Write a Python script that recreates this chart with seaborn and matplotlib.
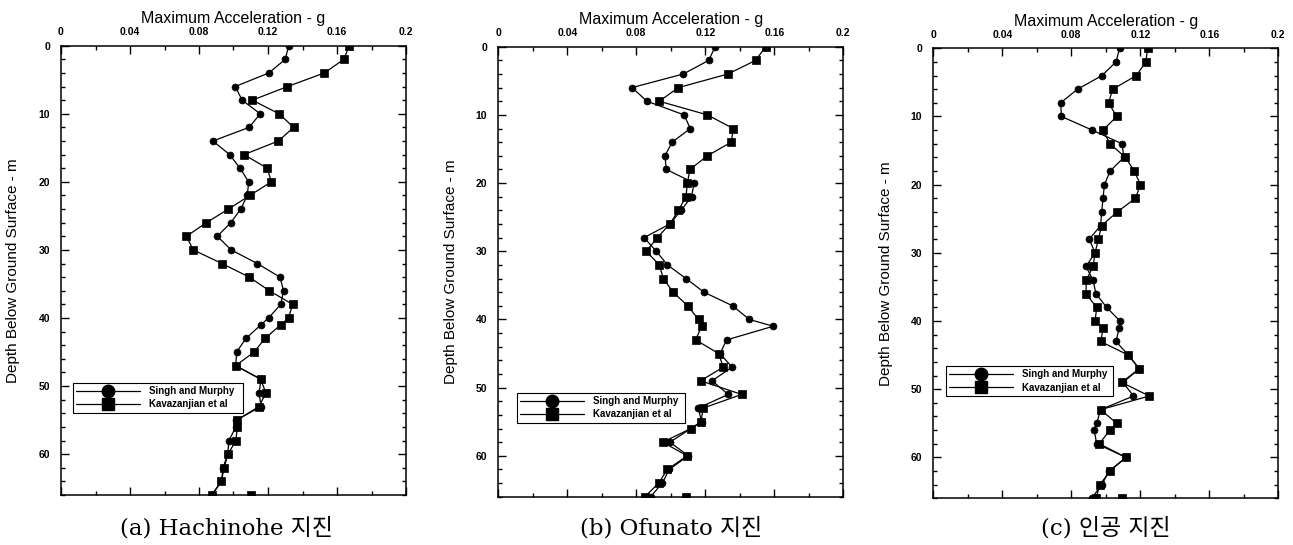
import matplotlib
matplotlib.use("Agg")
import matplotlib.pyplot as plt
import seaborn as sns
import pandas as pd
from matplotlib.ticker import MultipleLocator
from matplotlib.lines import Line2D

# ---------------- data ----------------
depths = [0, 2, 4, 6, 8, 10, 12, 14, 16, 18, 20, 22, 24, 26, 28, 30, 32, 34, 36, 38,
          40, 41, 43, 45, 47, 49, 51, 53, 55, 56, 58, 60, 62, 64, 66]

a_singh = [0.132, 0.130, 0.1205, 0.101, 0.105, 0.1155, 0.109, 0.088, 0.0978, 0.1038,
           0.1088, 0.108, 0.1042, 0.0984, 0.0906, 0.0987, 0.1138, 0.127, 0.129, 0.1274,
           0.1203, 0.1159, 0.1072, 0.1018, 0.1013, 0.116, 0.1148, 0.116, 0.1016, 0.1013,
           0.0974, 0.0966, 0.094, 0.093, 0.0875]
a_kav = [0.167, 0.164, 0.1527, 0.1313, 0.1109, 0.1264, 0.1349, 0.126, 0.1061, 0.1196,
         0.1219, 0.1095, 0.097, 0.0843, 0.0727, 0.0767, 0.0933, 0.1092, 0.1208, 0.1343,
         0.1319, 0.1273, 0.1183, 0.1119, 0.1013, 0.1157, 0.1188, 0.1148, 0.102, 0.1022,
         0.1014, 0.0968, 0.0945, 0.093, 0.0873]

b_singh = [0.1257, 0.122, 0.1073, 0.0775, 0.0862, 0.1077, 0.1113, 0.1008, 0.0966, 0.0974,
           0.1135, 0.112, 0.106, 0.0995, 0.0845, 0.0916, 0.098, 0.1088, 0.1192, 0.1358,
           0.1455, 0.1594, 0.1324, 0.1285, 0.1355, 0.1239, 0.1333, 0.1159, 0.1179, 0.1117,
           0.0995, 0.1101, 0.0991, 0.0951, 0.0883]
b_kav = [0.155, 0.1492, 0.1332, 0.1044, 0.0933, 0.1212, 0.1362, 0.1351, 0.1212, 0.1111,
         0.1096, 0.1088, 0.1044, 0.0995, 0.0922, 0.0858, 0.0933, 0.0957, 0.1013, 0.1098,
         0.1161, 0.1179, 0.1144, 0.1277, 0.1304, 0.1173, 0.1411, 0.1188, 0.1175, 0.1117,
         0.0953, 0.1095, 0.098, 0.093, 0.085]

c_singh = [0.108, 0.1059, 0.0978, 0.0836, 0.0738, 0.0743, 0.0921, 0.1094, 0.1105, 0.1025,
           0.0992, 0.0984, 0.0976, 0.097, 0.0904, 0.0938, 0.0885, 0.0926, 0.0943, 0.1005,
           0.1082, 0.1078, 0.1059, 0.1131, 0.1194, 0.110, 0.116, 0.097, 0.0947, 0.0933,
           0.0947, 0.1117, 0.102, 0.0976, 0.0918]
c_kav = [0.1242, 0.1232, 0.1177, 0.104, 0.1016, 0.1063, 0.0984, 0.1024, 0.1114, 0.1165,
         0.1201, 0.1172, 0.1066, 0.0976, 0.0957, 0.0938, 0.0926, 0.0887, 0.0885, 0.0947,
         0.0938, 0.0986, 0.097, 0.1131, 0.1194, 0.1092, 0.1252, 0.097, 0.1063, 0.1024,
         0.0962, 0.1117, 0.1024, 0.0966, 0.0943]

# isolated square drawn at the bottom of each panel
extra_acc = [0.110, 0.1086, 0.1092]
extra_depth = [66, 66, 66]

series_names = ["Singh and Murphy", "Kavazanjian et al"]
captions = ["(a) Hachinohe 지진", "(b) Ofunato 지진", "(c) 인공 지진"]
x_ticks = [0, 0.04, 0.08, 0.12, 0.16, 0.2]
x_tick_labels = ["0", "0.04", "0.08", "0.12", "0.16", "0.2"]
y_ticks = [0, 10, 20, 30, 40, 50, 60]
x_title = "Maximum Acceleration - g"
y_title = "Depth Below Ground Surface - m"

panels = [(a_singh, a_kav), (b_singh, b_kav), (c_singh, c_kav)]

# ---------------- style ----------------
sns.set_theme(style="ticks")
plt.rcParams["font.family"] = ["Liberation Sans", "DejaVu Sans"]
plt.rcParams.update({
    "axes.linewidth": 1.1,
    "axes.edgecolor": "black",
    "text.color": "black",
    "axes.labelcolor": "black",
    "xtick.color": "black",
    "ytick.color": "black",
})

W, H = 1293, 545
fig = plt.figure(figsize=(W / 100, H / 100), dpi=100)

# axes boxes in pixels: left, top, right, bottom
boxes = [(61, 45.7, 406, 495), (498.3, 46.7, 843.3, 496.7), (933.3, 48.3, 1278.3, 498.3)]
legend_boxes = [(0.035, 0.183, 0.493, 0.084), (0.054, 0.164, 0.487, 0.084), (0.037, 0.227, 0.484, 0.084)]
caption_x = [226, 671, 1106]

for i, ((singh, kav), (l, t, r, b)) in enumerate(zip(panels, boxes)):
    ax = fig.add_axes([l / W, (H - b) / H, (r - l) / W, (b - t) / H])
    df = pd.DataFrame({"acc": singh, "depth": depths})
    dk = pd.DataFrame({"acc": kav, "depth": depths})
    sns.lineplot(data=df, x="acc", y="depth", sort=False, estimator=None, ax=ax,
                 color="black", linewidth=0.9, marker="o", markersize=5,
                 markeredgecolor="black", markeredgewidth=0.5)
    sns.lineplot(data=dk, x="acc", y="depth", sort=False, estimator=None, ax=ax,
                 color="black", linewidth=0.9, marker="s", markersize=5.3,
                 markeredgecolor="black", markeredgewidth=0.5)
    sns.scatterplot(x=[extra_acc[i]], y=[extra_depth[i]], ax=ax, marker="s", s=28,
                    color="black", edgecolor="black", linewidth=0.5)

    ax.set_xlim(0, 0.2)
    ax.set_ylim(66, 0)
    ax.set_xticks(x_ticks)
    ax.set_xticklabels(x_tick_labels)
    ax.set_yticks(y_ticks)
    ax.xaxis.set_minor_locator(MultipleLocator(0.02))
    ax.yaxis.set_minor_locator(MultipleLocator(2))
    ax.tick_params(axis="both", which="both", direction="in", top=True, bottom=True,
                   left=True, right=True, labeltop=True, labelbottom=False,
                   labelleft=True, labelright=False, width=1.0, color="black")
    ax.tick_params(axis="both", which="major", length=6)
    ax.tick_params(axis="both", which="minor", length=3)
    ax.tick_params(axis="x", which="major", pad=6)
    ax.tick_params(axis="y", which="major", pad=8)
    for lab in ax.get_xticklabels() + ax.get_yticklabels():
        lab.set_fontsize(7.5)
        lab.set_fontweight("bold")
        lab.set_color("black")

    ax.xaxis.set_label_position("top")
    ax.set_xlabel(x_title, fontsize=11.5, labelpad=3, color="black")
    ax.set_ylabel(y_title, fontsize=11, labelpad=13, color="black")

    handles = [
        Line2D([], [], color="black", linewidth=0.9, marker="o", markersize=9,
               markeredgecolor="black"),
        Line2D([], [], color="black", linewidth=0.9, marker="s", markersize=9,
               markeredgecolor="black"),
    ]
    leg = ax.legend(handles, series_names, loc="lower left",
                    bbox_to_anchor=legend_boxes[i], mode="expand", borderaxespad=0,
                    frameon=True, fancybox=False, edgecolor="black", framealpha=1,
                    handlelength=6.5, handletextpad=1.0, borderpad=0.35,
                    labelspacing=0.35, prop={"size": 7, "weight": "bold"})
    leg.get_frame().set_linewidth(0.8)
    for txt in leg.get_texts():
        txt.set_color("black")

    fig.text(caption_x[i] / W, (H - 535) / H, captions[i], ha="center", va="baseline",
             fontsize=16.5, color="black", family=["DejaVu Serif", "Noto Sans CJK KR"])

fig.savefig("out.png", dpi=100)
